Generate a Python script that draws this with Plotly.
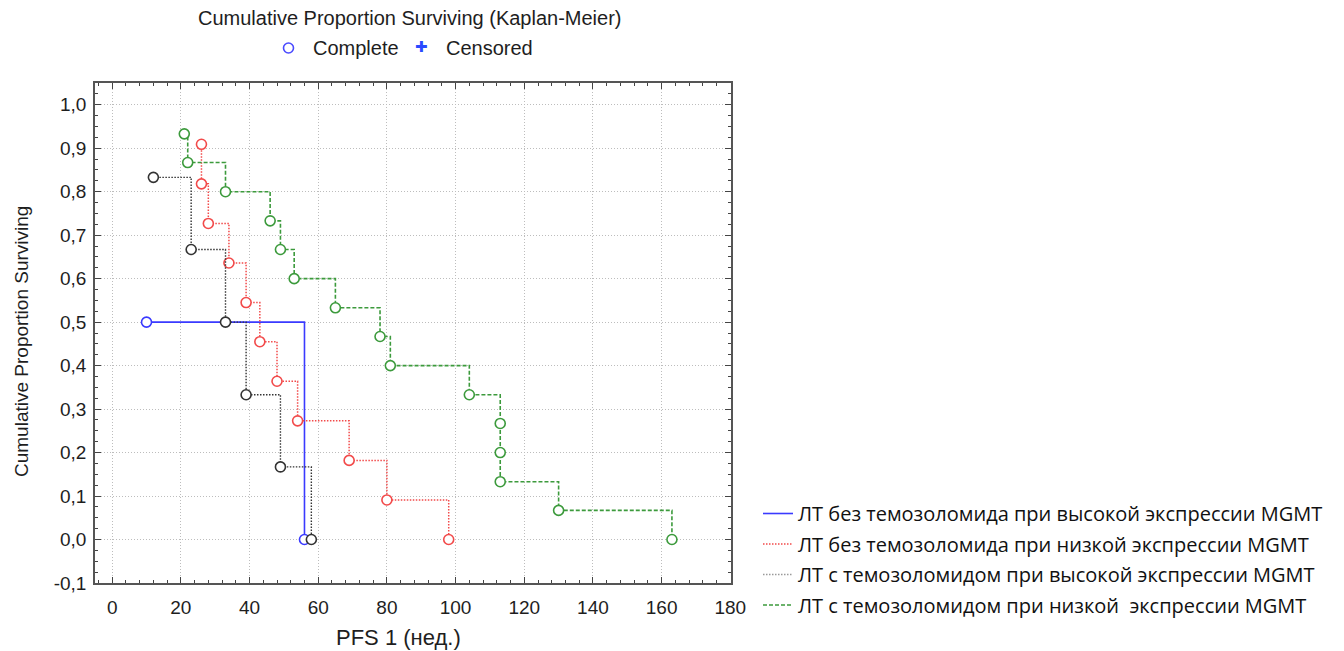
import plotly.graph_objects as go

# ---- data ----
blue_t = [10, 56]
blue_s = [0.5, 0.0]

red_t = [26, 26, 28, 34, 39, 43, 48, 54, 69, 80, 98]
red_s = [0.909, 0.818, 0.727, 0.636, 0.545, 0.455, 0.364, 0.273, 0.182, 0.091, 0.0]

black_t = [12, 23, 33, 39, 49, 58]
black_s = [0.833, 0.667, 0.5, 0.333, 0.167, 0.0]

green_t = [21, 22, 33, 46, 49, 53, 65, 78, 81, 104, 113, 113, 113, 130, 163]
green_s = [0.933, 0.867, 0.8, 0.733, 0.667, 0.6, 0.533, 0.467, 0.4, 0.333,
           0.267, 0.2, 0.133, 0.067, 0.0]

names = [
    "ЛТ без темозоломида при высокой экспрессии MGMT",
    "ЛТ без темозоломида при низкой экспрессии MGMT",
    "ЛТ с темозоломидом при высокой экспрессии MGMT",
    "ЛТ с темозоломидом при низкой  экспрессии MGMT",
]

x_ticks = [0, 20, 40, 60, 80, 100, 120, 140, 160, 180]
y_ticks = [-0.1, 0.0, 0.1, 0.2, 0.3, 0.4, 0.5, 0.6, 0.7, 0.8, 0.9, 1.0]
y_tick_labels = ["-0,1", "0,0", "0,1", "0,2", "0,3", "0,4", "0,5",
                 "0,6", "0,7", "0,8", "0,9", "1,0"]

series = [
    (blue_t, blue_s, "#3a3aff", "solid", 1.6),
    (red_t, red_s, "#f24a4a", "1.5px,1.5px", 1.5),
    (black_t, black_s, "#333333", "1.5px,1.5px", 1.4),
    (green_t, green_s, "#3c9a3c", "4px,2px", 1.6),
]
legend_colors = ["#3a3aff", "#f24a4a", "#9a9a9a", "#3c9a3c"]

SANS = "Liberation Sans, Arial, sans-serif"
L, T, PW, PH = 95, 83, 636, 500


def px(xp):
    return (xp - L) / PW


def py(yp):
    return (T + PH - yp) / PH


fig = go.Figure()

for (t, s, col, dash, w) in series:
    fig.add_trace(go.Scatter(
        x=t, y=s, mode="lines+markers", line_shape="hv",
        line=dict(color=col, dash=dash, width=w),
        marker=dict(symbol="circle", size=10, color="white",
                    line=dict(color=col, width=1.6)),
        showlegend=False, hoverinfo="x+y",
    ))

for i, (nm, (t, s, col, dash, w)) in enumerate(zip(names, series)):
    fig.add_trace(go.Scatter(
        x=[None], y=[None], mode="lines", name=nm,
        line=dict(color=legend_colors[i], dash=dash, width=w),
        legendgroup=f"g{i}", showlegend=True,
    ))

axis_font = dict(family=SANS, size=19, color="#1e1e1e")

fig.update_xaxes(
    range=[-5, 180.2], tickmode="array", tickvals=x_ticks,
    ticks="inside", ticklen=6, tickwidth=1.2, tickcolor="#444",
    showline=True, linecolor="#555", linewidth=1.6, mirror="allticks",
    showgrid=True, gridcolor="#bdbdbd", griddash="1px,2px", gridwidth=1,
    zeroline=False, tickfont=axis_font, ticklabelstandoff=6,
    minor=dict(ticks="inside", ticklen=3, tickcolor="#444", dtick=4, tick0=0, showgrid=False),
)
fig.update_yaxes(
    range=[-0.1, 1.05], tickmode="array", tickvals=y_ticks, ticktext=y_tick_labels,
    ticks="inside", ticklen=6, tickwidth=1.2, tickcolor="#444",
    showline=True, linecolor="#555", linewidth=1.6, mirror="allticks",
    showgrid=True, gridcolor="#bdbdbd", griddash="1px,2px", gridwidth=1,
    zeroline=False, tickfont=axis_font, ticklabelstandoff=3,
    minor=dict(ticks="inside", ticklen=3, tickcolor="#444", dtick=0.025, tick0=0, showgrid=False),
)

# axis titles
fig.add_annotation(xref="paper", yref="paper", x=px(398), y=py(637), xanchor="center", yanchor="middle",
                   text="PFS 1 (нед.)", showarrow=False,
                   font=dict(family=SANS, size=22, color="#1e1e1e"))
fig.add_annotation(xref="paper", yref="paper", x=px(21), y=py(342), xanchor="center", yanchor="middle",
                   text="Cumulative Proportion Surviving", showarrow=False, textangle=-90,
                   font=dict(family=SANS, size=19, color="#1e1e1e"))

fig.add_annotation(xref="paper", yref="paper", x=px(410), y=py(18), yanchor="middle", xanchor="center",
                   text="Cumulative Proportion Surviving (Kaplan-Meier)", showarrow=False,
                   font=dict(family=SANS, size=20, color="#1e1e1e"))
# marker key row
fig.add_shape(type="circle", xref="paper", yref="paper",
              x0=px(283.5), x1=px(293.5),
              y0=py(53), y1=py(43),
              line=dict(color="#4a4aff", width=1.6), fillcolor="white")
fig.add_annotation(xref="paper", yref="paper", x=px(311), y=py(48),
                   xanchor="left", yanchor="middle", text="Complete", showarrow=False,
                   font=dict(family=SANS, size=20, color="#1e1e1e"))
fig.add_annotation(xref="paper", yref="paper", x=px(421), y=py(47),
                   xanchor="center", yanchor="middle", text="<b>✚</b>", showarrow=False,
                   font=dict(family="DejaVu Sans", size=15, color="#2a4aff"))
fig.add_annotation(xref="paper", yref="paper", x=px(444), y=py(48),
                   xanchor="left", yanchor="middle", text="Censored", showarrow=False,
                   font=dict(family=SANS, size=20, color="#1e1e1e"))

fig.update_layout(
    width=1344, height=651,
    margin=dict(l=L, r=1344 - L - PW, t=T, b=651 - T - PH),
    paper_bgcolor="white", plot_bgcolor="white",
    legend=dict(x=px(758), y=py(494), xanchor="left", yanchor="top",
                font=dict(family="Open Sans, Noto Sans, sans-serif", size=20, color="#111"),
                tracegroupgap=1.5, bgcolor="rgba(0,0,0,0)", itemwidth=30),
    showlegend=True,
)

fig.write_html("out.html")
